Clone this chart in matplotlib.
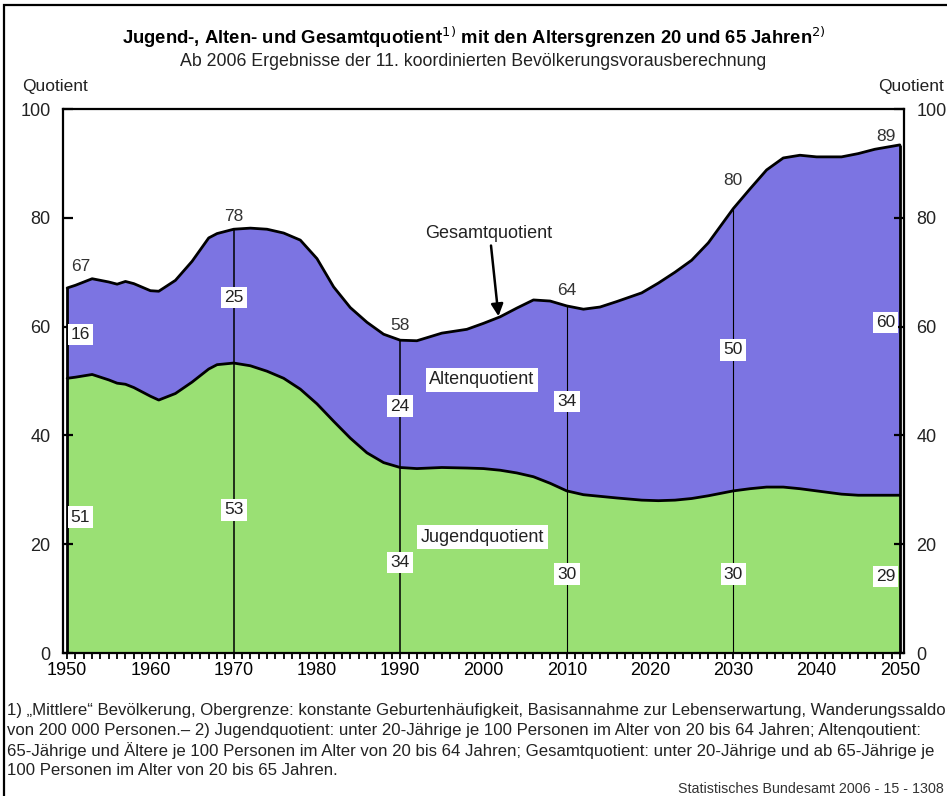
import numpy as np
import matplotlib
matplotlib.use('Agg')
import matplotlib.pyplot as plt
from matplotlib.patches import Rectangle

plt.rcParams['font.family'] = ['Liberation Sans', 'DejaVu Sans']

# --- data --------------------------------------------------------------------
years = [1950, 1951, 1953, 1955, 1956, 1957, 1958, 1960, 1961, 1963, 1965, 1967,
         1968, 1970, 1972, 1974, 1976, 1978, 1980, 1982, 1984, 1986, 1988, 1990,
         1992, 1995, 1998, 2000, 2002, 2004, 2006, 2008, 2010, 2012, 2014, 2016,
         2019, 2021, 2023, 2025, 2027, 2030, 2032, 2034, 2036, 2038, 2040, 2043,
         2045, 2047, 2050]

gesamt = [67.1, 67.6, 68.8, 68.2, 67.8, 68.3, 67.9, 66.6, 66.5, 68.5, 72.0, 76.3,
          77.1, 77.9, 78.1, 77.9, 77.2, 75.9, 72.5, 67.3, 63.5, 60.8, 58.6, 57.5,
          57.4, 58.8, 59.5, 60.6, 61.8, 63.4, 64.9, 64.7, 63.8, 63.2, 63.6, 64.6,
          66.2, 68.0, 70.0, 72.2, 75.4, 81.7, 85.3, 88.8, 91.0, 91.5, 91.2, 91.2,
          91.8, 92.6, 93.4]

jugend = [50.5, 50.7, 51.2, 50.2, 49.6, 49.4, 48.8, 47.2, 46.5, 47.7, 49.8, 52.2,
          53.0, 53.3, 52.8, 51.8, 50.5, 48.5, 45.8, 42.6, 39.5, 36.8, 35.0, 34.1,
          33.9, 34.1, 34.0, 33.9, 33.6, 33.1, 32.4, 31.2, 29.8, 29.1, 28.8, 28.5,
          28.1, 28.0, 28.1, 28.4, 28.9, 29.8, 30.2, 30.5, 30.5, 30.2, 29.8, 29.2,
          29.0, 29.0, 29.0]

mark_years = [1950, 1970, 1990, 2010, 2030, 2050]
total_lbl = [67, 78, 58, 64, 80, 89]
alten_lbl = [16, 25, 24, 34, 50, 60]
jugend_lbl = [51, 53, 34, 30, 30, 29]

# label placement (x in years, y in quotient units)
lbl_x = [1951.6, 1970, 1990, 2010, 2030, 2048.3]
total_y = [71.0, 80.2, 60.2, 66.7, 86.8, 95.0]
alten_y = [58.5, 65.3, 45.4, 46.3, 55.7, 60.8]
jugend_y = [25.0, 26.3, 16.7, 14.5, 14.5, 14.0]

GREEN = '#9ae074'
PURPLE = '#7c74e2'

fig = plt.figure(figsize=(9.47, 7.96), dpi=100)
ax = fig.add_axes([63 / 947, 1 - 653 / 796, 841 / 947, 544 / 796])

x = np.array(years)
g = np.array(gesamt)
j = np.array(jugend)

ax.fill_between(x, 0, j, color=GREEN, lw=0)
ax.fill_between(x, j, g, color=PURPLE, lw=0)
ax.plot(x, g, color='black', lw=2, solid_capstyle='round')
ax.plot(x, j, color='black', lw=2, solid_capstyle='round')
# edges at start and end of the series
ax.vlines([x[0], x[-1]], 0, [g[0], g[-1]], color='black', lw=2)
# marker lines
for yr in mark_years[1:-1]:
    ax.vlines(yr, 0, np.interp(yr, x, g), color='black', lw=1.1 if yr < 2000 else 0.8)

box = dict(boxstyle='square,pad=0.18', fc='white', ec='none')
for i in range(len(mark_years)):
    ax.text(lbl_x[i], total_y[i], str(total_lbl[i]), ha='center', va='center',
            fontsize=12.5, color='#333333')
    ax.text(lbl_x[i], alten_y[i], str(alten_lbl[i]), ha='center', va='center',
            fontsize=12.5, color='#222222', bbox=box)
    ax.text(lbl_x[i], jugend_y[i], str(jugend_lbl[i]), ha='center', va='center',
            fontsize=12.5, color='#222222', bbox=box)

ax.text(1999.8, 50.2, 'Altenquotient', ha='center', va='center', fontsize=13,
        color='#222222', bbox=dict(boxstyle='square,pad=0.2', fc='white', ec='none'))
ax.text(1999.9, 21.3, 'Jugendquotient', ha='center', va='center', fontsize=13,
        color='#222222', bbox=dict(boxstyle='square,pad=0.2', fc='white', ec='none'))
ax.text(2000.6, 77.1, 'Gesamtquotient', ha='center', va='center', fontsize=13,
        color='#222222')
ax.annotate('', xy=(2001.8, 61.9), xytext=(2000.9, 74.9),
            arrowprops=dict(arrowstyle='-|>', color='black', lw=1.8,
                            mutation_scale=18, shrinkA=0, shrinkB=0))

ax.set_xlim(1949.5, 2050.5)
ax.set_ylim(0, 100)
for s in ax.spines.values():
    s.set_linewidth(1.6)

ax.set_xticks(range(1950, 2051, 10))
ax.set_xticks(range(1950, 2051, 1), minor=True)
ax.tick_params(axis='x', which='both', direction='out', length=4.5, width=1.3,
               labelsize=13, pad=2)
ax.set_yticks(range(0, 101, 20))
ax.tick_params(axis='y', which='major', direction='in', length=7, width=1.6,
               labelsize=13, pad=9, left=True, right=True,
               labelleft=True, labelright=True)
for lab in ax.get_yticklabels():
    lab.set_color('#222222')

fig.text(22 / 947, 1 - 87 / 796, 'Quotient', fontsize=12.5, va='center', ha='left',
         color='#222222')
fig.text(878 / 947, 1 - 87 / 796, 'Quotient', fontsize=12.5, va='center', ha='left',
         color='#222222')

fig.text(0.5, 1 - 37 / 796,
         r'Jugend-, Alten- und Gesamtquotient$^{1)}$ mit den Altersgrenzen 20 und 65 Jahren$^{2)}$',
         ha='center', va='center', fontsize=13.3, fontweight='bold')
fig.text(0.5, 1 - 61 / 796,
         'Ab 2006 Ergebnisse der 11. koordinierten Bevölkerungsvorausberechnung',
         ha='center', va='center', fontsize=12.8, color='#222222')

notes = [
    '1) \u201eMittlere\u201c Bevölkerung, Obergrenze: konstante Geburtenhäufigkeit, Basisannahme zur Lebenserwartung, Wanderungssaldo',
    'von 200 000 Personen.\u2013 2) Jugendquotient: unter 20-Jährige je 100 Personen im Alter von 20 bis 64 Jahren; Altenqoutient:',
    '65-Jährige und Ältere je 100 Personen im Alter von 20 bis 64 Jahren; Gesamtquotient: unter 20-Jährige und ab 65-Jährige je',
    '100 Personen im Alter von 20 bis 65 Jahren.',
]
for k, line in enumerate(notes):
    fig.text(7 / 947, 1 - (710 + 20.3 * k) / 796, line, ha='left', va='center',
             fontsize=12.1, color='#222222')
fig.text(944 / 947, 1 - 789 / 796, 'Statistisches Bundesamt 2006 - 15 - 1308',
         ha='right', va='center', fontsize=10.3, color='#333333')

fig.patches.append(Rectangle((4 / 947, -0.05), 1.2, 1.05 - 5 / 796,
                             transform=fig.transFigure, fill=False,
                             ec='black', lw=1.6))

fig.savefig('out.png', dpi=100)
